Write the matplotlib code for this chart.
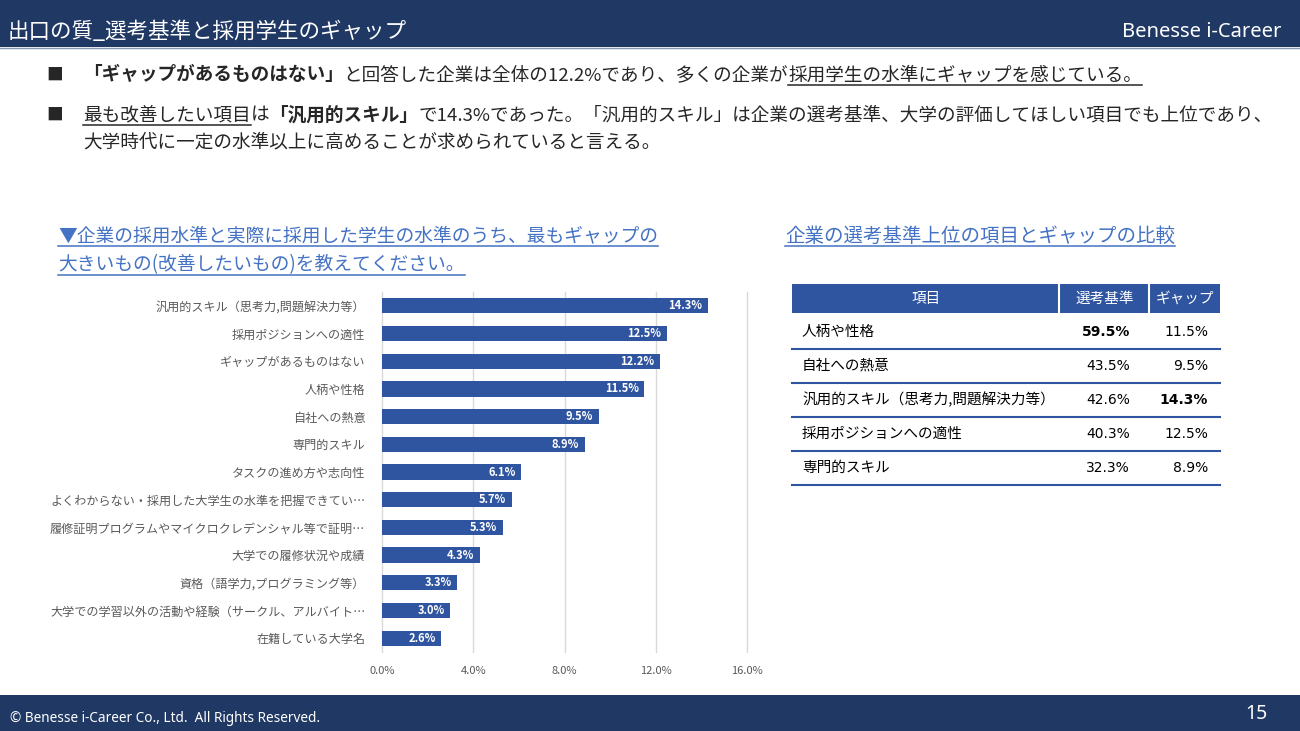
import matplotlib
matplotlib.use("Agg")
import matplotlib.pyplot as plt
from matplotlib.patches import Rectangle

plt.rcParams["font.family"] = ["Noto Sans CJK JP", "DejaVu Sans"]

# ---- data ----
categories = [
    "汎用的スキル（思考力,問題解決力等）",
    "採用ポジションへの適性",
    "ギャップがあるものはない",
    "人柄や性格",
    "自社への熱意",
    "専門的スキル",
    "タスクの進め方や志向性",
    "よくわからない・採用した大学生の水準を把握できてい…",
    "履修証明プログラムやマイクロクレデンシャル等で証明…",
    "大学での履修状況や成績",
    "資格（語学力,プログラミング等）",
    "大学での学習以外の活動や経験（サークル、アルバイト…",
    "在籍している大学名",
]
gap_values = [14.3, 12.5, 12.2, 11.5, 9.5, 8.9, 6.1, 5.7, 5.3, 4.3, 3.3, 3.0, 2.6]
x_ticks = [0, 4, 8, 12, 16]

table_header = ["項目", "選考基準", "ギャップ"]
table_items = ["人柄や性格", "自社への熱意", "汎用的スキル（思考力,問題解決力等）",
               "採用ポジションへの適性", "専門的スキル"]
table_criteria = [59.5, 43.5, 42.6, 40.3, 32.3]
table_gap = [11.5, 9.5, 14.3, 12.5, 8.9]

NAVY = "#203864"
BAR = "#2F55A0"
LINKBLUE = "#4472C4"
TEXT = "#262626"
GRAY = "#595959"

W, H = 1300, 731
fig = plt.figure(figsize=(W / 100, H / 100), dpi=100)

# overlay axes in pixel coordinates for slide decorations
ov = fig.add_axes([0, 0, 1, 1], zorder=0)
ov.set_xlim(0, W)
ov.set_ylim(H, 0)
ov.axis("off")
ov.patch.set_alpha(0)

ov.add_patch(Rectangle((0, 0), W, 47, color=NAVY, lw=0))
ov.plot([0, W], [48, 48], color="#8497b0", lw=1)
ov.add_patch(Rectangle((0, 695), W, 36, color=NAVY, lw=0))
ov.text(8, 32, "出口の質_選考基準と採用学生のギャップ", color="white", fontsize=15.5, va="center")
ov.text(1281, 32, "Benesse i-Career", color="white", fontsize=14.5, va="center", ha="right",
        family=["Noto Sans", "DejaVu Sans"])
ov.text(10, 718, "© Benesse i-Career Co., Ltd.  All Rights Reserved.", color="white",
        fontsize=9.8, va="center", family=["Noto Sans", "DejaVu Sans"])
ov.text(1256, 714, "15", color="white", fontsize=14, va="center", ha="center",
        family=["Noto Sans", "DejaVu Sans"])

renderer = fig.canvas.get_renderer()


def draw_runs(x, y, runs, size, color=TEXT, ul_color=None):
    # runs: list of (text, bold, underline)
    for txt, bold, ul in runs:
        t = ov.text(x, y, txt, fontsize=size, color=color, va="center",
                    fontweight="bold" if bold else "normal")
        bb = t.get_window_extent(renderer)
        if ul:
            ov.plot([x, x + bb.width], [y + size * 0.74, y + size * 0.74],
                    color=ul_color or color, lw=1.1)
        x += bb.width
    return x


# bullets
fs = 13.4
for yy in (75, 115):
    ov.text(55, yy, "■", fontsize=12, color=TEXT, va="center", ha="center")
draw_runs(83, 75, [("「ギャップがあるものはない」", True, False),
                   ("と回答した企業は全体の12.2%であり、多くの企業が", False, False),
                   ("採用学生の水準にギャップを感じている。", False, True)], fs)
draw_runs(83, 115, [("最も改善したい項目", False, True),
                    ("は", False, False),
                    ("「汎用的スキル」", True, False),
                    ("で14.3%であった。「汎用的スキル」は企業の選考基準、大学の評価してほしい項目でも上位であり、",
                     False, False)], fs)
draw_runs(83, 142, [("大学時代に一定の水準以上に高めることが求められていると言える。", False, False)], fs)

# section headings
draw_runs(58, 236, [("▼企業の採用水準と実際に採用した学生の水準のうち、最もギャップの", False, True)],
          13.5, color=LINKBLUE)
draw_runs(58, 265, [("大きいもの(改善したいもの)を教えてください。", False, True)], 13.5, color=LINKBLUE)
draw_runs(785, 236, [("企業の選考基準上位の項目とギャップの比較", False, True)], 14, color=LINKBLUE)

# ---- bar chart ----
ax = fig.add_axes([382 / W, 1 - 652 / H, (747 - 382) / W, (652 - 292) / H], zorder=2)
ypos = list(range(len(categories)))
ax.barh(ypos, gap_values, height=0.55, color=BAR, zorder=3)
for yv, v in zip(ypos, gap_values):
    ax.text(v - 0.25, yv, f"{v:.1f}%", color="white", fontsize=8, fontweight="bold",
            ha="right", va="center", zorder=4)
ax.set_ylim(len(categories) - 0.5, -0.5)
ax.set_xlim(0, 16)
ax.set_xticks(x_ticks)
ax.set_xticklabels([f"{t:.1f}%" for t in x_ticks], fontsize=8, color=GRAY)
ax.set_yticks(ypos)
ax.set_yticklabels(categories, fontsize=8.7, color=GRAY)
ax.tick_params(length=0, axis="y", pad=12)
ax.tick_params(length=0, axis="x", pad=10)
for t in x_ticks:
    ax.axvline(t, color="#d9d9d9", lw=1, zorder=1, clip_on=False)
for s in ax.spines.values():
    s.set_visible(False)
ax.patch.set_alpha(0)

# ---- table ----
col_x = [792, 1060, 1150, 1220]
hdr_top, hdr_bot = 284, 313
ov.add_patch(Rectangle((col_x[0], hdr_top), col_x[-1] - col_x[0], hdr_bot - hdr_top,
                       color=BAR, lw=0))
for cx in col_x[1:-1]:
    ov.plot([cx - 1, cx - 1], [hdr_top, hdr_bot], color="white", lw=1.5)
for i, h in enumerate(table_header):
    ov.text((col_x[i] + col_x[i + 1]) / 2, (hdr_top + hdr_bot) / 2, h, color="white",
            fontsize=10.5, ha="center", va="center")

row_h = 34
max_c = max(table_criteria)
max_g = max(table_gap)
num_font = ["DejaVu Sans"]
for r, (item, c, g) in enumerate(zip(table_items, table_criteria, table_gap)):
    top = hdr_bot + 2 + r * row_h
    cy = top + row_h / 2
    ov.text(802, cy, item, fontsize=10.5, color="black", va="center")
    ov.text(1130, cy, f"{c:.1f}%", fontsize=10, color="black", va="center", ha="right",
            family=num_font, fontweight="bold" if c == max_c else "normal")
    ov.text(1208, cy, f"{g:.1f}%", fontsize=10, color="black", va="center", ha="right",
            family=num_font, fontweight="bold" if g == max_g else "normal")
    ov.plot([col_x[0], col_x[-1]], [top + row_h, top + row_h], color=BAR, lw=1.5)

fig.savefig("out.png", dpi=100)
